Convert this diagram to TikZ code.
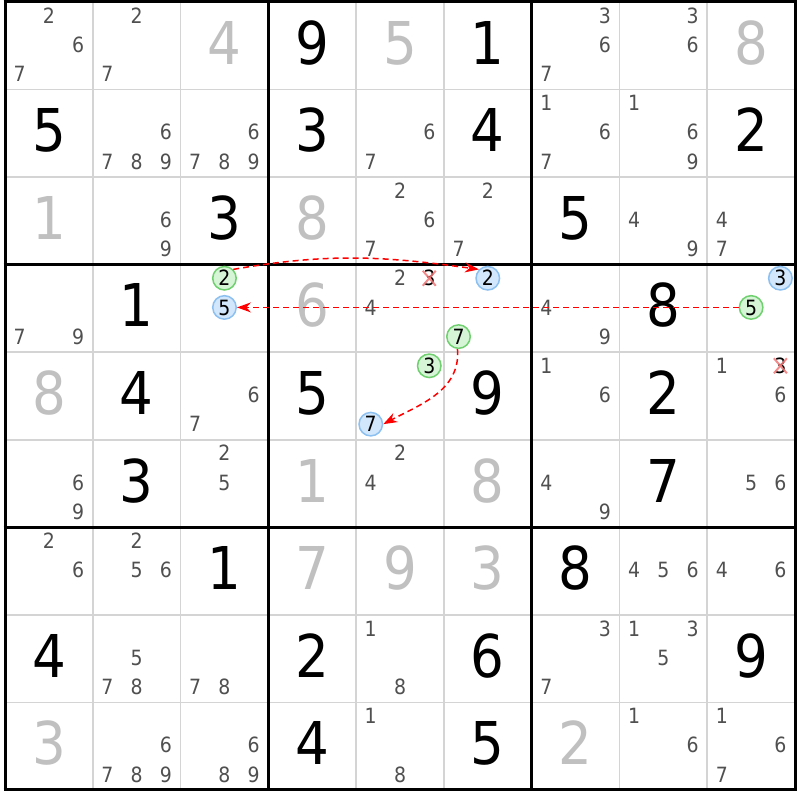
\documentclass[tikz,border=0pt]{standalone}
\usepackage{fontspec}
\setmainfont{DejaVu Sans Condensed}
\usetikzlibrary{arrows.meta}
\definecolor{candc}{HTML}{505050}
\definecolor{solc}{HTML}{C0C0C0}
\definecolor{thinc}{HTML}{D4D4D4}
\definecolor{gfill}{HTML}{D6F5D6}
\definecolor{gdraw}{HTML}{70D070}
\definecolor{bfill}{HTML}{D2E7FB}
\definecolor{bdraw}{HTML}{8CC0F0}
\definecolor{xcol}{HTML}{F07878}
\definecolor{arrc}{HTML}{FF0000}
\def\cw{87.78}\def\ch{87.55}\def\ox{5}\def\oy{2}
\tikzset{
  givst/.style={inner sep=0pt, text height=43pt, text depth=0pt, font=\fontsize{59}{59}\selectfont, text=black},
  solst/.style={givst, text=solc},
  candst/.style={inner sep=0pt, text height=15.3pt, text depth=0pt, font=\fontsize{21}{21}\selectfont, text=candc},
  gcirc/.style={candst, text=black, circle, minimum size=23.5pt, fill=gfill, draw=gdraw, line width=1.5pt},
  bcirc/.style={candst, text=black, circle, minimum size=23.5pt, fill=bfill, draw=bdraw, line width=1.5pt},
  thinline/.style={thinc, line width=1.7pt},
  thickline/.style={black, line width=3pt},
  arr/.style={draw=arrc, dash pattern=on 6pt off 4pt, line width=1.5pt, -{Stealth[length=14pt,width=10pt,fill=arrc]}},
  xmark/.style={xcol, line width=2pt, opacity=0.85}
}
\newcommand\candx[3]{{\ox+#2*\cw+(2*mod(#3-1,3)+1)*\cw/6}}
\newcommand\candy[3]{{\oy+#1*\ch+(2*int((#3-1)/3)+1)*\ch/6-1}}
\begin{document}
\begin{tikzpicture}[x=1pt,y=-1pt]
\useasboundingbox (0,0) rectangle (800,800);
\fill[white] (0,0) rectangle (800,800);
% thin lines
\foreach \i in {1,2,4,5,7,8}{
  \draw[thinline] ({\ox+\i*\cw},\oy) -- ({\ox+\i*\cw},{\oy+9*\ch});
  \draw[thinline] (\ox,{\oy+\i*\ch}) -- ({\ox+9*\cw},{\oy+\i*\ch});
}
% thick lines
\foreach \i in {0,3,6,9}{
  \draw[thickline] ({\ox+\i*\cw},{\oy-1.5}) -- ({\ox+\i*\cw},{\oy+9*\ch+1.5});
  \draw[thickline] ({\ox-1.5},{\oy+\i*\ch}) -- ({\ox+9*\cw+1.5},{\oy+\i*\ch});
}
% givens
\foreach \r/\c/\d in {0/3/9,0/5/1,1/0/5,1/3/3,1/5/4,1/8/2,2/2/3,2/6/5,3/1/1,3/7/8,4/1/4,4/3/5,4/5/9,4/7/2,5/1/3,5/7/7,6/2/1,6/6/8,7/0/4,7/3/2,7/5/6,7/8/9,8/3/4,8/5/5}{
  \node[givst] (v\r\c) at ({\ox+(\c+0.5)*\cw},{\oy+(\r+0.5)*\ch-3}) {\d};
}
% solved
\foreach \r/\c/\d in {0/2/4,0/4/5,0/8/8,2/0/1,2/3/8,3/3/6,4/0/8,5/3/1,5/5/8,6/3/7,6/4/9,6/5/3,8/0/3,8/6/2}{
  \node[solst] (v\r\c) at ({\ox+(\c+0.5)*\cw},{\oy+(\r+0.5)*\ch-3}) {\d};
}
% candidates
\foreach \r/\c/\L in {0/0/{2,6,7},0/1/{2,7},0/6/{3,6,7},0/7/{3,6},
  1/1/{6,7,8,9},1/2/{6,7,8,9},1/4/{6,7},1/6/{1,6,7},1/7/{1,6,9},
  2/1/{6,9},2/4/{2,6,7},2/5/{2,7},2/7/{4,9},2/8/{4,7},
  3/0/{7,9},3/4/{2,4},3/6/{4,9},
  4/2/{6,7},4/6/{1,6},4/8/{1,6},
  5/0/{6,9},5/2/{2,5},5/4/{2,4},5/6/{4,9},5/8/{5,6},
  6/0/{2,6},6/1/{2,5,6},6/7/{4,5,6},6/8/{4,6},
  7/1/{5,7,8},7/2/{7,8},7/4/{1,8},7/6/{3,7},7/7/{1,3,5},
  8/1/{6,7,8,9},8/2/{6,8,9},8/4/{1,8},8/7/{1,6},8/8/{1,6,7}}{
  \foreach \n in \L {
    \node[candst] (c\r\c n\n) at (\candx{\r}{\c}{\n},\candy{\r}{\c}{\n}) {\n};
  }
}
% crossed-out candidates
\foreach \r/\c/\n in {3/4/3,4/8/3}{
  \node[candst, text=black] (x\r\c n\n) at (\candx{\r}{\c}{\n},\candy{\r}{\c}{\n}) {\n};
  \draw[xmark] ([shift={(-6.5,-7.5)}]x\r\c n\n.center) -- ([shift={(6.5,7.5)}]x\r\c n\n.center);
  \draw[xmark] ([shift={(6.5,-7.5)}]x\r\c n\n.center) -- ([shift={(-6.5,7.5)}]x\r\c n\n.center);
}
% highlighted candidates
\node[gcirc] (g2) at (\candx{3}{2}{2},\candy{3}{2}{2}) {2};
\node[bcirc] (b5) at (\candx{3}{2}{5},\candy{3}{2}{5}) {5};
\node[bcirc] (b2) at (\candx{3}{5}{2},\candy{3}{5}{2}) {2};
\node[gcirc] (g7) at (\candx{3}{5}{7},\candy{3}{5}{7}) {7};
\node[bcirc] (b3) at (\candx{3}{8}{3},\candy{3}{8}{3}) {3};
\node[gcirc] (g5) at (\candx{3}{8}{5},\candy{3}{8}{5}) {5};
\node[gcirc] (g3) at (\candx{4}{4}{3},\candy{4}{4}{3}) {3};
\node[bcirc] (b7) at (\candx{4}{4}{7},\candy{4}{4}{7}) {7};
% links
\draw[arr] (g2.45) to[out=10,in=172] (b2.135);
\draw[arr] (g5.west) -- (b5.east);
\draw[arr] (g7.-95) to[out=-85,in=28] (b7.east);
\end{tikzpicture}
\end{document}
